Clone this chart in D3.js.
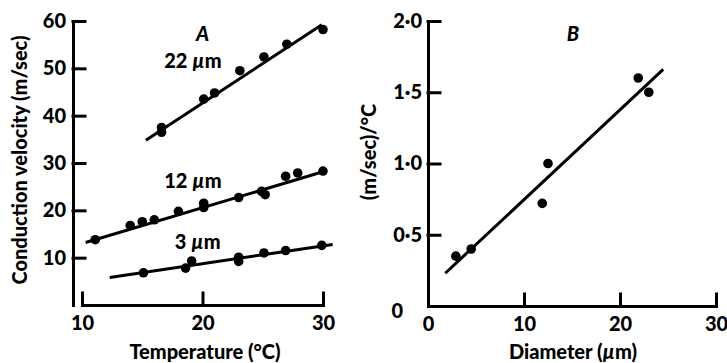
<!DOCTYPE html>
<html>
<head>
<meta charset="utf-8">
<script src="https://cdn.jsdelivr.net/npm/d3@7"></script>
<style>
  body { margin: 0; background: #fff; }
  svg text { font-family: Lato, "Open Sans", sans-serif; font-weight: 900; fill: #000; }
</style>
</head>
<body>
<div id="chart"></div>
<script>
// panel A: conduction velocity vs temperature, three fibre diameters
const temp22 = [16.6, 16.6, 20.1, 21.0, 23.1, 25.1, 27.0, 30.0]
const vel22 = [37.5, 36.5, 43.5, 44.8, 49.5, 52.4, 55.1, 58.2]
const temp12 = [11.1, 14.0, 15.0, 16.0, 18.0, 20.1, 20.1, 23.0, 24.9, 25.2, 26.9, 27.9, 30.0]
const vel12 = [13.8, 16.8, 17.6, 18.0, 19.8, 21.5, 20.6, 22.7, 24.0, 23.3, 27.2, 27.9, 28.3]
const temp3 = [15.1, 18.6, 19.1, 23.0, 23.0, 25.1, 26.9, 29.9]
const vel3 = [6.8, 7.8, 9.3, 10.1, 9.2, 11.0, 11.5, 12.6]
// fitted lines [x0, y0, x1, y1]
const fit22 = [15.3, 34.8, 29.9, 59.2]
const fit12 = [10.3, 13.2, 30.2, 28.3]
const fit3 = [12.3, 5.8, 30.8, 12.8]
const seriesLabels = ["22", "12", "3"]
const labelPos = [[19.2, 50.1], [19.2, 24.7], [19.6, 11.8]]
const tempTicks = [10, 20, 30]
const velTicks = [10, 20, 30, 40, 50, 60]

// panel B: slope vs diameter
const diameter = [2.9, 4.5, 11.9, 12.5, 21.9, 23.0]
const slope = [0.35, 0.40, 0.72, 1.00, 1.60, 1.50]
const fitB = [1.8, 0.23, 24.5, 1.66]
const diamTicks = [0, 10, 20, 30]
const slopeTicks = [0, 0.5, 1.0, 1.5, 2.0]

const width = 727, height = 363
const fs = 20
const svg = d3.select("#chart").append("svg")
  .attr("width", width).attr("height", height)

const xA = d3.scaleLinear().domain([10, 30]).range([82, 323])
const yA = d3.scaleLinear().domain([0, 60]).range([305, 21])
const xB = d3.scaleLinear().domain([0, 30]).range([428, 716])
const yB = d3.scaleLinear().domain([0, 2]).range([306, 21])

const styleAxis = (g) => {
  g.selectAll("path, line").attr("stroke", "#000").attr("stroke-width", 3).attr("stroke-linecap", "square")
  g.selectAll("text").attr("font-size", fs).attr("font-family", null).attr("fill", "#000")
}

// axes A
svg.append("g").attr("transform", "translate(73,0)")
  .call(d3.axisLeft(yA).tickValues(velTicks).tickSizeInner(-12).tickSizeOuter(0).tickPadding(7))
  .call(styleAxis)
svg.append("g").attr("transform", "translate(0,305)")
  .call(d3.axisBottom(xA).tickValues(tempTicks).tickSizeInner(-12).tickSizeOuter(0).tickPadding(11))
  .call(styleAxis)

// axes B
const dotFmt = (d) => d === 0 ? "0" : d3.format(".1f")(d).replace(".", "\u00b7")
const gyB = svg.append("g").attr("transform", "translate(428,0)")
  .call(d3.axisLeft(yB).tickValues(slopeTicks).tickFormat(dotFmt).tickSizeInner(-12).tickSizeOuter(0).tickPadding(6))
  .call(styleAxis)
gyB.selectAll(".tick").filter(d => d === 0).select("text").attr("dx", -19).attr("dy", "0.55em")
gyB.selectAll(".tick").filter(d => d === 0).select("line").remove()
svg.append("g").attr("transform", "translate(0,306)")
  .call(d3.axisBottom(xB).tickValues(diamTicks).tickSizeInner(-12).tickSizeOuter(0).tickPadding(11))
  .call(styleAxis)

// fitted lines
const drawFit = (f, x, y) => svg.append("line")
  .attr("x1", x(f[0])).attr("y1", y(f[1])).attr("x2", x(f[2])).attr("y2", y(f[3]))
  .attr("stroke", "#000").attr("stroke-width", 3)
drawFit(fit22, xA, yA)
drawFit(fit12, xA, yA)
drawFit(fit3, xA, yA)
drawFit(fitB, xB, yB)

// dots
const drawDots = (xs, ys, x, y) => svg.append("g").selectAll("circle")
  .data(xs.map((d, i) => [d, ys[i]]))
  .enter().append("circle")
  .attr("cx", d => x(d[0])).attr("cy", d => y(d[1])).attr("r", 4.8).attr("fill", "#000")
drawDots(temp22, vel22, xA, yA)
drawDots(temp12, vel12, xA, yA)
drawDots(temp3, vel3, xA, yA)
drawDots(diameter, slope, xB, yB)

// series labels
seriesLabels.forEach((s, i) => {
  const t = svg.append("text")
    .attr("x", xA(labelPos[i][0])).attr("y", yA(labelPos[i][1]))
    .attr("text-anchor", "middle").attr("font-size", fs)
  t.append("tspan").text(s + " ")
  t.append("tspan").attr("font-style", "italic").text("\u00b5")
  t.append("tspan").text("m")
})

svg.append("text").attr("x", xA(20)).attr("y", yA(55.8))
  .attr("text-anchor", "middle").attr("font-size", fs).attr("font-style", "italic").text("A")
svg.append("text").attr("x", xB(15.1)).attr("y", yB(1.86))
  .attr("text-anchor", "middle").attr("font-size", fs).attr("font-style", "italic").text("B")

// axis titles
svg.append("text").attr("x", 205).attr("y", 359)
  .attr("text-anchor", "middle").attr("font-size", fs).text("Temperature (\u00b0C)")
const tB = svg.append("text").attr("x", 573).attr("y", 359)
  .attr("text-anchor", "middle").attr("font-size", fs)
tB.append("tspan").text("Diameter (")
tB.append("tspan").attr("font-style", "italic").text("\u00b5")
tB.append("tspan").text("m)")
svg.append("text").attr("transform", "translate(27,160) rotate(-90)")
  .attr("text-anchor", "middle").attr("font-size", fs).text("Conduction velocity (m/sec)")
svg.append("text").attr("transform", "translate(376,152) rotate(-90)")
  .attr("text-anchor", "middle").attr("font-size", fs).text("(m/sec)/\u00b0C")
</script>
</body>
</html>
